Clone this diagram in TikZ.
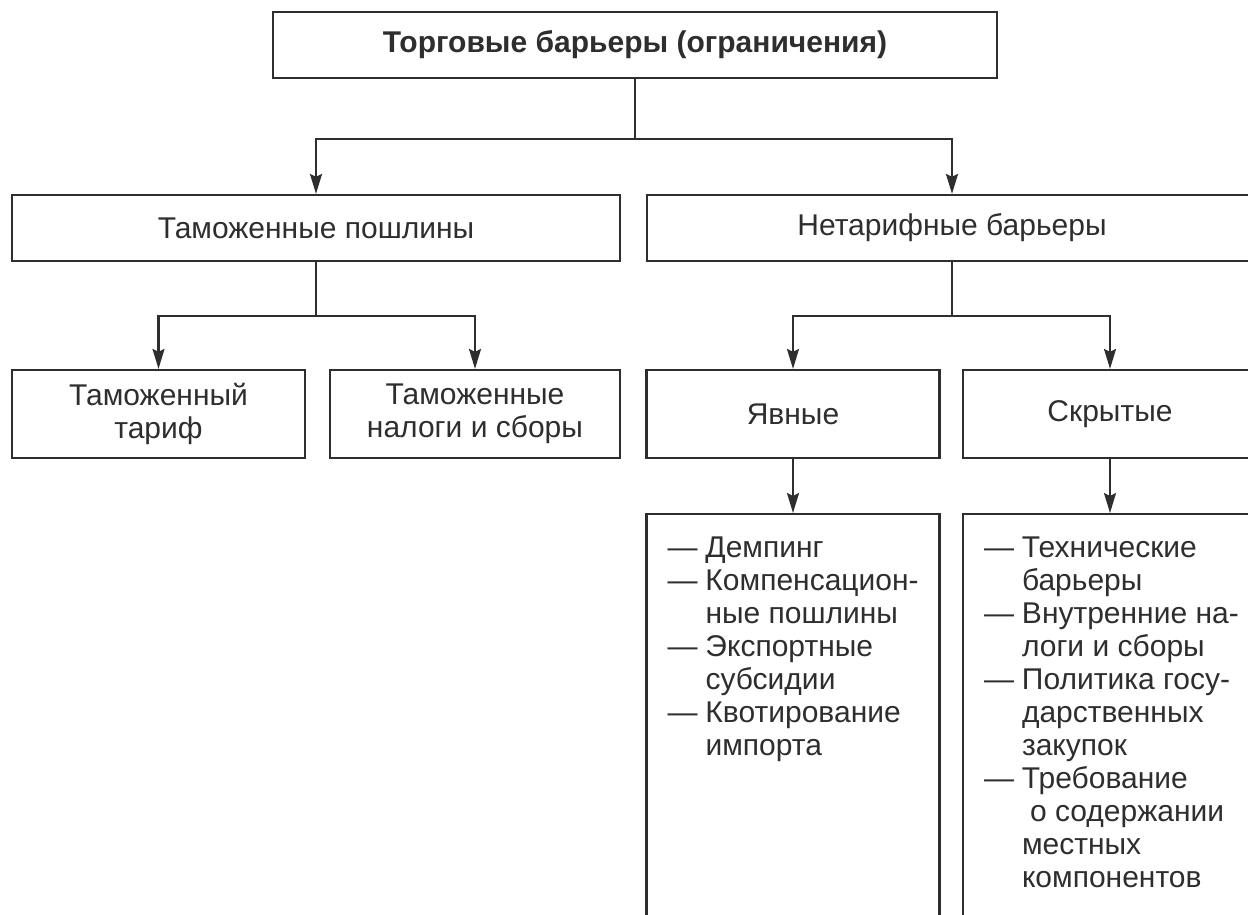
\documentclass[tikz,border=0pt]{standalone}
\usepackage{fontspec}
\setmainfont{Liberation Sans}
\usepackage{tikz}
\usetikzlibrary{arrows.meta}
\usetikzlibrary{calc}
\definecolor{ink}{HTML}{2E2E2E}

\begin{document}
\begin{tikzpicture}[x=0.5pt,y=-0.5pt,>={Stealth[length=10pt,width=6pt,inset=1.5pt]},line width=1.1pt,color=ink,
	main node/.style={draw,rectangle,inner sep=0pt,minimum height=33pt,align=center,font=\fontsize{15}{16.5}\selectfont},
	low node/.style={main node,minimum width=146.5pt,minimum height=44pt},
	list box/.style={draw,rectangle,inner sep=0pt,minimum width=146.5pt,minimum height=212pt,anchor=north},
	list text/.style={inner sep=0pt,anchor=north west,font=\fontsize{15}{16.5}\selectfont}]

	\useasboundingbox (0,0) rectangle (1248,915);
	\clip (0,0) rectangle (1248,915);

	\node[main node,minimum width=362pt,font=\fontsize{15}{16.5}\selectfont\bfseries] (top) at (635,45) {Торговые барьеры (ограничения)};
	\node[main node,minimum width=304pt] (tp) at (316,228) {Таможенные пошлины};
	\node[main node,minimum width=305pt] (ntb) at (952,228) {Нетарифные барьеры};

	\node[low node] (tt) at (158.5,414) {Таможенный\\тариф};
	\node[low node,minimum width=145pt] (tn) at (475,414) {Таможенные\\налоги и сборы};
	\node[low node] (yav) at (793,414) {Явные};
	\node[low node,minimum width=147pt] (skr) at (1110,414) {Скрытые};

	\node[list box] (lyav) at (793,513) {};
	\node[list box,minimum width=147pt] (lskr) at (1110,513) {};

	\node[list text] (tyav) at ($(lyav.north west)+(21,20)$) {\begin{tabular}{@{}p{19pt}@{}l@{}}
		— & Демпинг\\
		— & Компенсацион-\\
		  & ные пошлины\\
		— & Экспортные\\
		  & субсидии\\
		— & Квотирование\\
		  & импорта
	\end{tabular}};
	\node[list text] (tskr) at ($(lskr.north west)+(21,20)$) {\begin{tabular}{@{}p{19pt}@{}l@{}}
		— & Технические\\
		  & барьеры\\
		— & Внутренние на-\\
		  & логи и сборы\\
		— & Политика госу-\\
		  & дарственных\\
		  & закупок\\
		— & Требование\\
		  & \hspace*{4pt}о содержании\\
		  & местных\\
		  & компонентов
	\end{tabular}};

	% connectors
	\coordinate (j0) at ($(top.south)+(0,60)$);
	\coordinate (j1) at ($(tp.south)+(0,54)$);
	\coordinate (j2) at ($(ntb.south)+(0,54)$);

	\draw (top.south) -- (j0);
	\draw[->] (j0) -| (tp);
	\draw[->] (j0) -| (ntb);

	\draw (tp.south) -- (j1);
	\draw[->] (j1) -| (tt);
	\draw[->] (j1) -| (tn);

	\draw (ntb.south) -- (j2);
	\draw[->] (j2) -| (yav);
	\draw[->] (j2) -| (skr);

	\draw[->] (yav) -- (lyav);
	\draw[->] (skr) -- (lskr);

\end{tikzpicture}
\end{document}
